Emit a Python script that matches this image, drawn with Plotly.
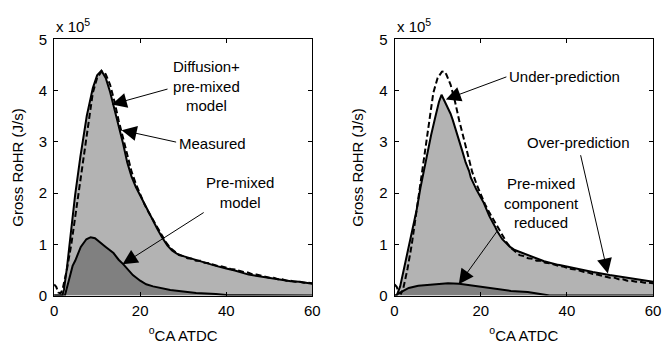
import plotly.graph_objects as go

# ---------------- data (units: x in deg CA ATDC, y in 1e5 J/s) ----------------
meas_x = [0, 0.5, 1, 1.5, 2, 2.5, 3, 4, 5, 6, 7, 8, 9, 10, 11, 11.5, 12, 13, 14, 15, 16, 17, 18,
          19, 20, 21, 22, 23, 24, 25, 26, 27, 28, 29, 30, 31, 32, 33, 34, 35, 36, 37, 38, 39,
          40, 41, 42, 43, 44, 45, 46, 47, 48, 49, 50, 51, 52, 53, 54, 55, 56, 57, 58, 59, 60]
meas_y = [0.22, 0.17, 0.06, 0.04, 0.13, 0.30, 0.52, 1.00, 1.58, 2.20, 2.80, 3.40, 3.96, 4.25, 4.37,
          4.38, 4.32, 4.12, 3.80, 3.42, 3.07, 2.75, 2.42, 2.18, 1.96, 1.78, 1.62, 1.47, 1.32, 1.17,
          1.04, 0.93, 0.85, 0.79, 0.77, 0.73, 0.72, 0.68, 0.68, 0.64, 0.63, 0.60, 0.58, 0.57, 0.54,
          0.52, 0.51, 0.48, 0.46, 0.45, 0.42, 0.41, 0.39, 0.37, 0.35, 0.35, 0.32, 0.32, 0.29, 0.29,
          0.27, 0.27, 0.25, 0.25, 0.24]

# left panel: diffusion + pre-mixed model
modA_x = [0, 1.9, 2.3, 3, 3.9, 4.9, 6.1, 7.6, 9, 10, 11, 12, 13, 13.8, 15, 16, 17, 18,
          19, 20, 21, 22, 23, 24, 25, 26.3, 27.4, 28.5, 30, 31.6, 34, 37.6, 40, 42, 45.2, 48, 50,
          52.8, 55, 57, 58.9, 60]
modA_y = [0, 0, 0.12, 0.55, 1.23, 1.97, 2.71, 3.51, 4.05, 4.30, 4.39, 4.25, 3.98, 3.72, 3.35,
          2.98, 2.60, 2.32, 2.12, 1.95, 1.78, 1.62, 1.47, 1.30, 1.15, 0.98, 0.88, 0.82, 0.77,
          0.73, 0.66, 0.58, 0.53, 0.49, 0.41, 0.37, 0.34, 0.30, 0.28, 0.27, 0.24, 0.23]
preA_x = [0, 2.5, 3.5, 4.3, 4.9, 6.2, 7.5, 8.5, 9.5, 10.8, 12, 13.8, 15, 16.1, 17, 18.3, 20,
          21.4, 23, 25.1, 27, 30, 33, 37.6, 40, 60]
preA_y = [0, 0, 0.32, 0.58, 0.68, 0.95, 1.10, 1.14, 1.12, 1.04, 0.95, 0.83, 0.70, 0.61, 0.52,
          0.40, 0.29, 0.22, 0.18, 0.14, 0.11, 0.08, 0.05, 0.03, 0.01, 0]

# right panel: pre-mixed component reduced
modB_x = [0, 0.5, 1.3, 2, 3.2, 4, 5.1, 6, 7, 8, 8.5, 9.5, 10.3, 10.9, 11.5, 12, 13, 13.5, 14,
          15, 15.8, 16.5, 17.3, 17.7, 19, 20.7, 22, 23.3, 23.8, 25, 26.8, 27.9, 29.8, 32, 34.7,
          38, 42.3, 46, 49.9, 55, 60]
modB_y = [0, 0, 0.18, 0.45, 0.86, 1.20, 1.66, 2.10, 2.53, 2.95, 3.14, 3.50, 3.78, 3.92, 3.82,
          3.72, 3.55, 3.43, 3.30, 3.05, 2.80, 2.60, 2.43, 2.30, 2.07, 1.81, 1.55, 1.35, 1.26,
          1.10, 0.95, 0.89, 0.83, 0.76, 0.67, 0.60, 0.52, 0.46, 0.40, 0.33, 0.27]
preB_x = [0, 0.2, 1.5, 3.3, 5.5, 7.8, 10, 12.4, 15, 17.7, 20.5, 23.8, 27, 30.9, 34, 36, 60]
preB_y = [0, 0, 0.07, 0.15, 0.19, 0.21, 0.23, 0.24, 0.23, 0.20, 0.16, 0.12, 0.09, 0.07, 0.03,
          0, 0]

x_ticks = [0, 20, 40, 60]
y_ticks = [0, 1, 2, 3, 4, 5]
scale = 1e5

LIGHT = "#b3b3b3"
DARK = "#808080"
FONT = "Liberation Sans, Arial, sans-serif"

fig = go.Figure()


def add_panel(xa, ya, mx, my, px_, py_):
    fig.add_trace(go.Scatter(x=mx, y=[v * scale for v in my], mode="lines",
                             line=dict(color="black", width=2), fill="tozeroy",
                             fillcolor=LIGHT, xaxis=xa, yaxis=ya, showlegend=False))
    fig.add_trace(go.Scatter(x=px_, y=[v * scale for v in py_], mode="lines",
                             line=dict(color="black", width=2), fill="tozeroy",
                             fillcolor=DARK, xaxis=xa, yaxis=ya, showlegend=False))
    fig.add_trace(go.Scatter(x=meas_x, y=[v * scale for v in meas_y], mode="lines",
                             line=dict(color="black", width=2, dash="6px,3px"),
                             xaxis=xa, yaxis=ya, showlegend=False))


add_panel("x", "y", modA_x, modA_y, preA_x, preA_y)
add_panel("x2", "y2", modB_x, modB_y, preB_x, preB_y)

ydom = [1 - 301 / 355, 1 - 32 / 355]
axis_common = dict(showline=True, linecolor="black", linewidth=1, mirror="allticks",
                   ticks="inside", ticklen=4, tickcolor="black", showgrid=False,
                   zeroline=False, tickfont=dict(family=FONT, size=15, color="black"))

xt = dict(text="<sup>o</sup>CA ATDC", standoff=12, font=dict(family=FONT, size=15))
yt = dict(text="Gross RoHR (J/s)", standoff=11, font=dict(family=FONT, size=15))

fig.update_layout(
    width=667, height=355, margin=dict(l=0, r=0, t=0, b=0),
    paper_bgcolor="white", plot_bgcolor="white",
    font=dict(family=FONT, size=15, color="black"),
    xaxis=dict(domain=[51 / 667, 314 / 667], range=[0, 60], tickvals=x_ticks,
               ticklabelstandoff=1, title=xt, anchor="y", **axis_common),
    yaxis=dict(domain=ydom, range=[0, 5 * scale], tickvals=[v * scale for v in y_ticks],
               ticktext=[str(v) for v in y_ticks], ticklabelstandoff=3,
               title=yt, anchor="x", **axis_common),
    xaxis2=dict(domain=[397.7 / 667, 661 / 667], range=[0, 60], tickvals=x_ticks,
                ticklabelstandoff=1, title=xt, anchor="y2", **axis_common),
    yaxis2=dict(domain=ydom, range=[0, 5 * scale], tickvals=[v * scale for v in y_ticks],
                ticktext=[str(v) for v in y_ticks], ticklabelstandoff=3,
                title=yt, anchor="x2", **axis_common),
)

annots = []
# multiplier labels
for xr, yr in (("x", "y"), ("x2", "y2")):
    annots.append(dict(xref=xr + " domain", yref=yr + " domain", x=0, y=1.0, xanchor="left",
                       yanchor="bottom", yshift=2, showarrow=False,
                       text="x 10<sup>5</sup>", font=dict(family=FONT, size=15)))

# text labels
texts = [
    ("x", "y", 35.3, 4.09, "Diffusion+<br>pre-mixed<br>model"),
    ("x", "y", 36.7, 2.96, "Measured"),
    ("x", "y", 43.3, 2.01, "Pre-mixed<br>model"),
    ("x2", "y2", 39.5, 4.28, "Under-prediction"),
    ("x2", "y2", 42.7, 2.99, "Over-prediction"),
    ("x2", "y2", 34.0, 1.80, "Pre-mixed<br>component<br>reduced"),
]
for xr, yr, tx, ty, t in texts:
    annots.append(dict(xref=xr, yref=yr, x=tx, y=ty * scale, text=t, showarrow=False,
                       font=dict(family=FONT, size=15), align="center"))

# arrows: (tail x, tail y) -> (tip x, tip y)
arrows = [
    ("x", "y", 26.7, 4.04, 13.4, 3.73),
    ("x", "y", 28.7, 2.99, 15.7, 3.23),
    ("x", "y", 35.1, 1.64, 15.9, 0.61),
    ("x2", "y2", 26.3, 4.28, 11.9, 3.83),
    ("x2", "y2", 43.1, 2.77, 49.5, 0.43),
    ("x2", "y2", 24.0, 1.28, 14.9, 0.22),
]
for xr, yr, ax, ay, tx, ty in arrows:
    annots.append(dict(xref=xr, yref=yr, axref=xr, ayref=yr, x=tx, y=ty * scale,
                       ax=ax, ay=ay * scale, text="", showarrow=True, arrowhead=2,
                       arrowsize=3, arrowwidth=1, arrowcolor="black", standoff=0))

fig.update_layout(annotations=annots)
fig.write_html("out.html")
